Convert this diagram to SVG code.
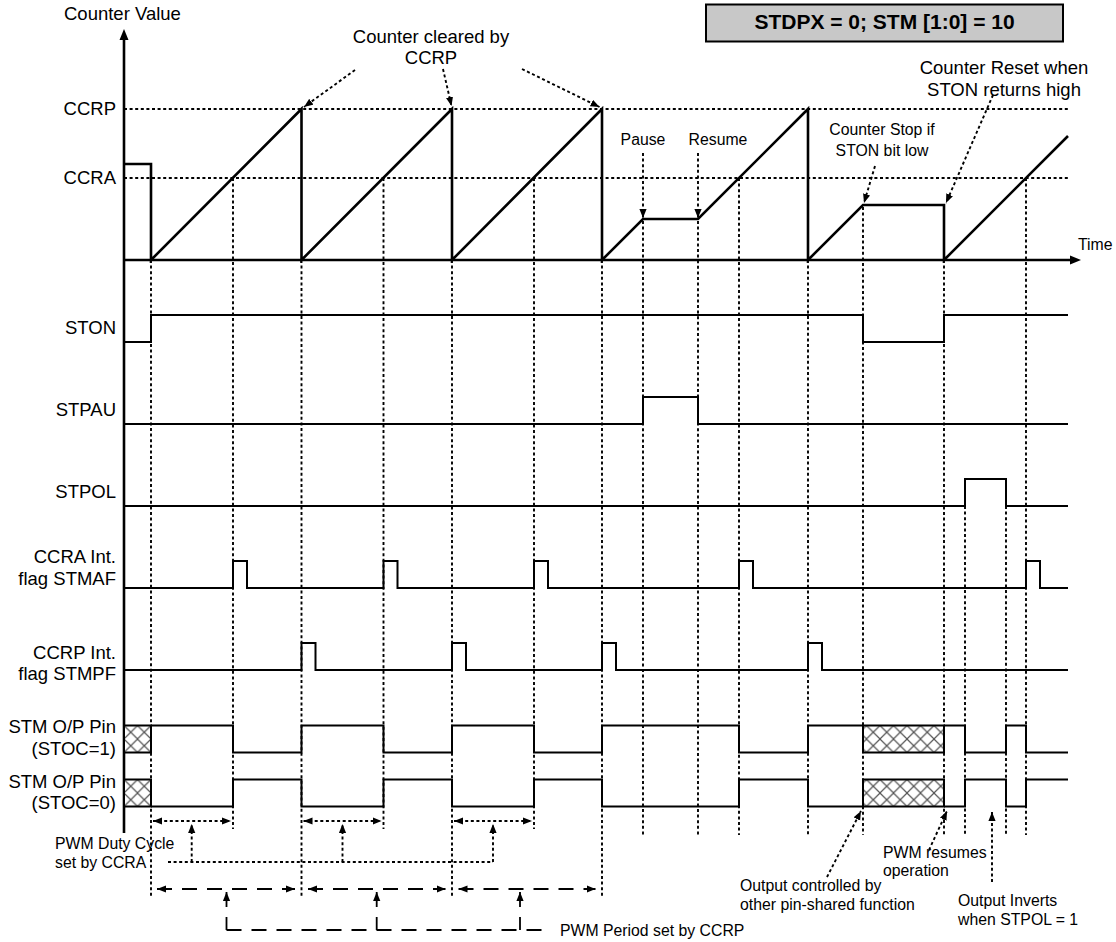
<svg xmlns="http://www.w3.org/2000/svg" width="1116" height="942" viewBox="0 0 1116 942">
<style>
text{font-family:"Liberation Sans",Arial,sans-serif;fill:#000}
.lb{font-size:18.5px;text-anchor:end}
.big{font-size:18.5px;text-anchor:middle}
.md{font-size:15.8px}
.mdc{font-size:15.8px;text-anchor:middle}
.sig{fill:none;stroke:#000;stroke-width:2}
.cnt{fill:none;stroke:#000;stroke-width:2.6}
.dot{fill:none;stroke:#000;stroke-width:1.9;stroke-dasharray:3 2.6}
.dash{fill:none;stroke:#000;stroke-width:1.8;stroke-dasharray:15 10}
.hatch{fill:url(#xh);stroke:#000;stroke-width:2}
.arr{marker-end:url(#ah)}
.arr2{marker-start:url(#ah);marker-end:url(#ah)}
</style>
<defs>
<marker id="ah" viewBox="0 0 10 8" refX="10" refY="4" markerWidth="9" markerHeight="8" markerUnits="userSpaceOnUse" orient="auto-start-reverse"><path d="M0,0L10,4L0,8z" fill="#000"/></marker>
<pattern id="xh" patternUnits="userSpaceOnUse" x="124" y="725.5" width="13.5" height="13.5"><rect width="13.5" height="13.5" fill="#fff"/><path d="M0,0L13.5,13.5M13.5,0L0,13.5" stroke="#555" stroke-width="1.2"/></pattern>
</defs>
<rect width="1116" height="942" fill="#fff"/>

<g id="title">
<rect x="706" y="4.5" width="357" height="37" fill="#c8c8c8" stroke="#000" stroke-width="2"/>
<text x="884.5" y="29" style="font-size:21px;font-weight:bold;text-anchor:middle">STDPX = 0; STM [1:0] = 10</text>
</g>

<g id="connectors">
<path class="dot" d="M124,109H1068M124,178H1068"/>
<path class="dot" d="M151,260V897M233,178V829M301.5,260V897M383.5,178V829M452,260V897M534,178V829M602,260V897M643,221V835M698,221V835M739,178V835M808,260V835M863,207V835M944,260V835M965,506V835M1006,506V835M1026,178V835"/>
<path class="dot arr" d="M355,70L304,107"/>
<path class="dot arr" d="M443,69L451.5,106"/>
<path class="dot arr" d="M522,69L599.5,107"/>
<path class="dot arr" d="M643,153V218"/>
<path class="dot arr" d="M698,153V218"/>
<path class="dot arr" d="M875,166L864,203"/>
<path class="dot arr" d="M993,95L946,203"/>
<path class="dot arr" d="M827,877L861,811"/>
<path class="dot arr" d="M929,850L947,811"/>
<path class="dot arr" d="M992,882V812"/>
<path class="dot arr2" d="M153,821H231"/>
<path class="dot arr2" d="M303.5,821H381.5"/>
<path class="dot arr2" d="M454,821H532"/>
<path class="dot arr" d="M191.7,862V824"/>
<path class="dot arr" d="M342.5,862V824"/>
<path class="dot arr" d="M493,862V824"/>
<path class="dot" d="M168,862H493"/>
<path class="dash arr2" d="M157,889H295"/>
<path class="dash arr2" d="M308,889H445.5"/>
<path class="dash arr2" d="M458.5,889H595.5"/>
<path class="dash" style="marker-start:url(#ah)" d="M226.5,892V930"/>
<path class="dash" style="marker-start:url(#ah)" d="M376.7,892V930"/>
<path class="dash" style="marker-start:url(#ah)" d="M520,892V930"/>
<path class="dash" d="M226.5,930H550"/>
</g>

<g id="counter">
<path class="cnt" d="M124,833V38M124,260H1071"/>
<path d="M124,29L119.5,40H128.5Z" fill="#000"/>
<path d="M1081,260L1070,255.5V264.5Z" fill="#000"/>
<path class="cnt" d="M124,164H151V260L301.5,109V260L452,109V260L602,109V260L643,219H698L808,109V260L863,205H944V260L1068,136"/>
<text x="64" y="20" style="font-size:18.5px">Counter Value</text>
<text class="lb" x="116" y="115">CCRP</text>
<text class="lb" x="116" y="184">CCRA</text>
<text class="md" x="1078" y="250">Time</text>
</g>

<g id="notes-top">
<text class="big" x="431" y="43">Counter cleared by</text>
<text class="big" x="431" y="64">CCRP</text>
<text class="mdc" x="643" y="145">Pause</text>
<text class="mdc" x="718" y="145">Resume</text>
<text class="mdc" x="882" y="135">Counter Stop if</text>
<text class="mdc" x="882" y="156">STON bit low</text>
<text class="big" x="1004" y="74">Counter Reset when</text>
<text class="big" x="1004" y="96">STON returns high</text>
</g>

<g id="ston">
<text class="lb" x="116" y="334">STON</text>
<path class="sig" d="M124,342H151V315H863V342H944V315H1068"/>
</g>
<g id="stpau">
<text class="lb" x="116" y="416">STPAU</text>
<path class="sig" d="M124,424H643V397H698V424H1068"/>
</g>
<g id="stpol">
<text class="lb" x="116" y="498">STPOL</text>
<path class="sig" d="M124,506H965V479H1006V506H1068"/>
</g>
<g id="stmaf">
<text class="lb" x="116" y="563">CCRA Int.</text>
<text class="lb" x="116" y="585">flag STMAF</text>
<path class="sig" d="M124,588H233V561H247V588H383.5V561H397.5V588H534V561H548V588H739V561H753V588H1026V561H1040V588H1068"/>
</g>
<g id="stmpf">
<text class="lb" x="116" y="659">CCRP Int.</text>
<text class="lb" x="116" y="680">flag STMPF</text>
<path class="sig" d="M124,670H301.5V643H315.5V670H452V643H466V670H602V643H616V670H808V643H822V670H1068"/>
</g>
<g id="stoc1">
<text class="lb" x="116" y="733">STM O/P Pin</text>
<text class="lb" x="116" y="755">(STOC=1)</text>
<rect class="hatch" x="124" y="725.5" width="27" height="27"/>
<rect class="hatch" x="863" y="725.5" width="81" height="27"/>
<path class="sig" d="M151,725.5H233V752.5H301.5V725.5H383.5V752.5H452V725.5H534V752.5H602V725.5H739V752.5H808V725.5H863M944,725.5H965V752.5H1006V725.5H1026V752.5H1068"/>
</g>
<g id="stoc0">
<text class="lb" x="116" y="788">STM O/P Pin</text>
<text class="lb" x="116" y="809">(STOC=0)</text>
<rect class="hatch" x="124" y="779.5" width="27" height="27"/>
<rect class="hatch" x="863" y="779.5" width="81" height="27"/>
<path class="sig" d="M151,806.5H233V779.5H301.5V806.5H383.5V779.5H452V806.5H534V779.5H602V806.5H739V779.5H808V806.5H863M944,806.5H965V779.5H1006V806.5H1026V779.5H1068"/>
</g>

<g id="notes-bottom">
<text class="md" x="55" y="849">PWM Duty Cycle</text>
<text class="md" x="55" y="868">set by CCRA</text>
<text class="md" x="560" y="936">PWM Period set by CCRP</text>
<text class="md" x="740" y="891">Output controlled by</text>
<text class="md" x="740" y="910">other pin-shared function</text>
<text class="md" x="883" y="858">PWM resumes</text>
<text class="md" x="883" y="876">operation</text>
<text class="md" x="958" y="906">Output Inverts</text>
<text class="md" x="958" y="925">when STPOL = 1</text>
</g>
</svg>
